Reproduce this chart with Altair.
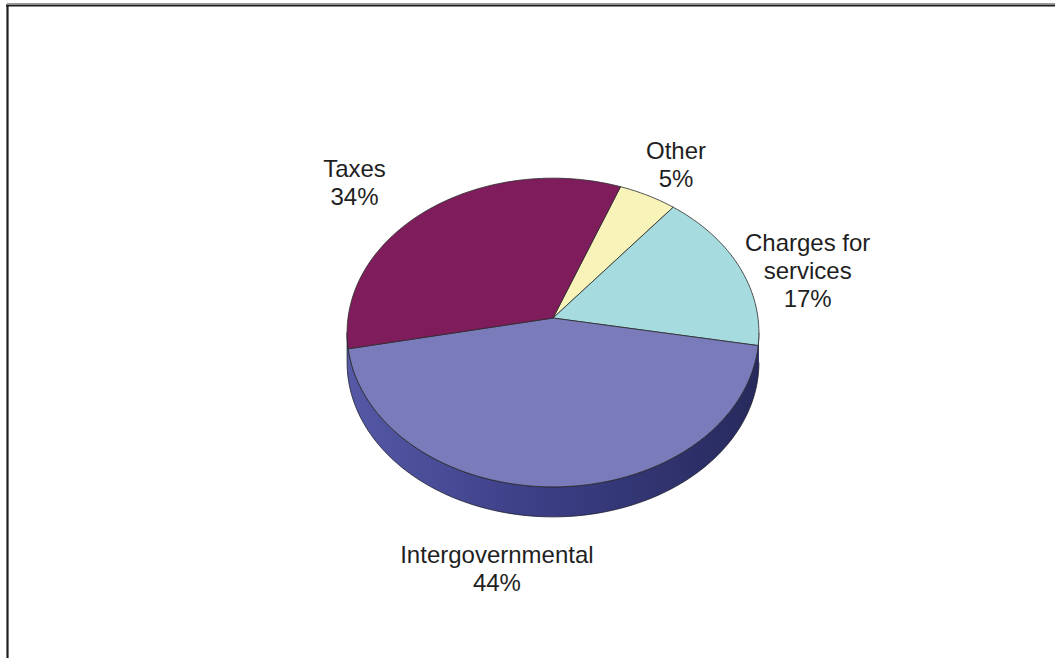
import altair as alt
import numpy as np
import pandas as pd

# ---- data ----
categories = ["Other", "Charges for services", "Intergovernmental", "Taxes"]
shares = [5, 17, 44, 34]
label_lines = [["Other", "5%"], ["Charges for", "services", "17%"],
               ["Intergovernmental", "44%"], ["Taxes", "34%"]]
colors = ["#f7f3b9", "#a6dcdf", "#7a7bbb", "#7f1d5c"]

# ---- layout (pixels) ----
W, H = 1055, 658
U = 206.0                  # pixels per plot unit
OX, OY = 553, 332          # pixel position of the unit origin
APEX_PX = (553, 318)       # centre of the pie disc on screen
F, G, K = 205.0, 153.0, 0.094   # perspective: horizontal / vertical radius, depth factor
DEPTH = 30                 # thickness of the 3D pie
START_DEG = 21             # first boundary, clockwise from 12 o'clock
LINE_H = 28
# label placement (style only)
TILT = 155 / 206
LABEL_NUDGE = {"Other": (-16, -5), "Charges for services": (-6, 5),
               "Intergovernmental": (-59, 22), "Taxes": (-19, -6)}


def to_units(px, py):
    return (px - OX) / U, (OY - py) / U


def proj(theta_deg, drop=0.0):
    t = np.radians(theta_deg)
    Xc, Zc = np.sin(t), np.cos(t)
    s = 1.0 + K * Zc
    px = APEX_PX[0] + F * Xc / s
    py = APEX_PX[1] - G * Zc / s + drop
    return to_units(px, py)


APEX = to_units(*APEX_PX)

# ---- slices of the top surface ----
rows = []
total = sum(shares)
cum = 0
bounds = []
for cat, v in zip(categories, shares):
    a0 = START_DEG + 360 * cum / total
    cum += v
    a1 = START_DEG + 360 * cum / total
    bounds.append((a0, a1))
    n = max(int((a1 - a0) / 1.5), 2)
    k = 0
    rows.append(dict(cat=cat, x=APEX[0], y=APEX[1], o=k)); k += 1
    for a in np.linspace(a0, a1, n):
        x, y = proj(a)
        rows.append(dict(cat=cat, x=x, y=y, o=k)); k += 1
    rows.append(dict(cat=cat, x=APEX[0], y=APEX[1], o=k))
slices = pd.DataFrame(rows)

# ---- visible side band (front half, between the silhouette points) ----
edge = np.degrees(np.arccos(-K))
side_rows = []
k = 0
for a in np.linspace(edge, 360 - edge, 120):
    x, y = proj(a, DEPTH)
    side_rows.append(dict(x=x, y=y, o=k)); k += 1
for a in np.linspace(360 - edge, edge, 120):
    x, y = proj(a)
    side_rows.append(dict(x=x, y=y, o=k)); k += 1
side = pd.DataFrame(side_rows)

# ---- labels (anchor = first line; block centred on the computed point) ----
lab_rows = []
for cat, lines, (a0, a1) in zip(categories, label_lines, bounds):
    mid = (a0 + a1) / 2
    x = np.sin(np.radians(mid)) * 1.35
    c = np.cos(np.radians(mid))
    y = TILT * c * 1.2 - (DEPTH / U if c < 0 else 0)
    nx, ny = LABEL_NUDGE[cat]
    ny -= (len(lines) - 1) * LINE_H / 2
    lab_rows.append(dict(cat=cat, txt="\n".join(lines),
                         x=x + nx / U, y=y - ny / U))
labels = pd.DataFrame(lab_rows)

xs = alt.Scale(domain=[-OX / U, (W - OX) / U], range=[0, W], nice=False, zero=False)
ys = alt.Scale(domain=[-(H - OY) / U, OY / U], range=[H, 0], nice=False, zero=False)
X = alt.X("x:Q", scale=xs, axis=None)
Y = alt.Y("y:Q", scale=ys, axis=None)

side_grad = alt.LinearGradient(
    gradient="linear", x1=0, x2=1, y1=0, y2=0,
    stops=[alt.GradientStop(offset=0, color="#5559a6"),
           alt.GradientStop(offset=0.45, color="#3c3f86"),
           alt.GradientStop(offset=1, color="#272a5c")])

side_layer = alt.Chart(side).mark_line(
    fill=side_grad, stroke="#1d1d30", strokeWidth=0.8
).encode(x=X, y=Y, order="o:Q")

slice_layer = alt.Chart(slices).mark_line(
    stroke="#2a2a2a", strokeWidth=0.8
).encode(
    x=X, y=Y, order="o:Q", detail="cat:N",
    fill=alt.Fill("cat:N", scale=alt.Scale(domain=categories, range=colors), legend=None),
)

text_layer = alt.Chart(labels).mark_text(
    font="Liberation Sans", fontSize=24, lineHeight=LINE_H, lineBreak="\n",
    align="center", baseline="middle", color="#1f1f1f"
).encode(x=X, y=Y, text="txt:N")

frame_top_grey = alt.Chart(pd.DataFrame({"v": [0]})).mark_rule(
    color="#9a9a9a", strokeWidth=1
).encode(x=alt.value(7), x2=alt.value(W), y=alt.value(3.5))
frame_top = alt.Chart(pd.DataFrame({"v": [0]})).mark_rule(
    color="#1e1e1e", strokeWidth=2.2
).encode(x=alt.value(6), x2=alt.value(W), y=alt.value(5.5))
frame_left = alt.Chart(pd.DataFrame({"v": [0]})).mark_rule(
    color="#1e1e1e", strokeWidth=2.2
).encode(x=alt.value(7.5), y=alt.value(5), y2=alt.value(H))

chart = alt.layer(
    side_layer, slice_layer, text_layer, frame_top_grey, frame_top, frame_left
).properties(
    width=W, height=H, padding=0, autosize="none", background="white"
).configure_view(stroke=None)

chart.save("out.html", embed_options={"renderer": "svg", "actions": False})
